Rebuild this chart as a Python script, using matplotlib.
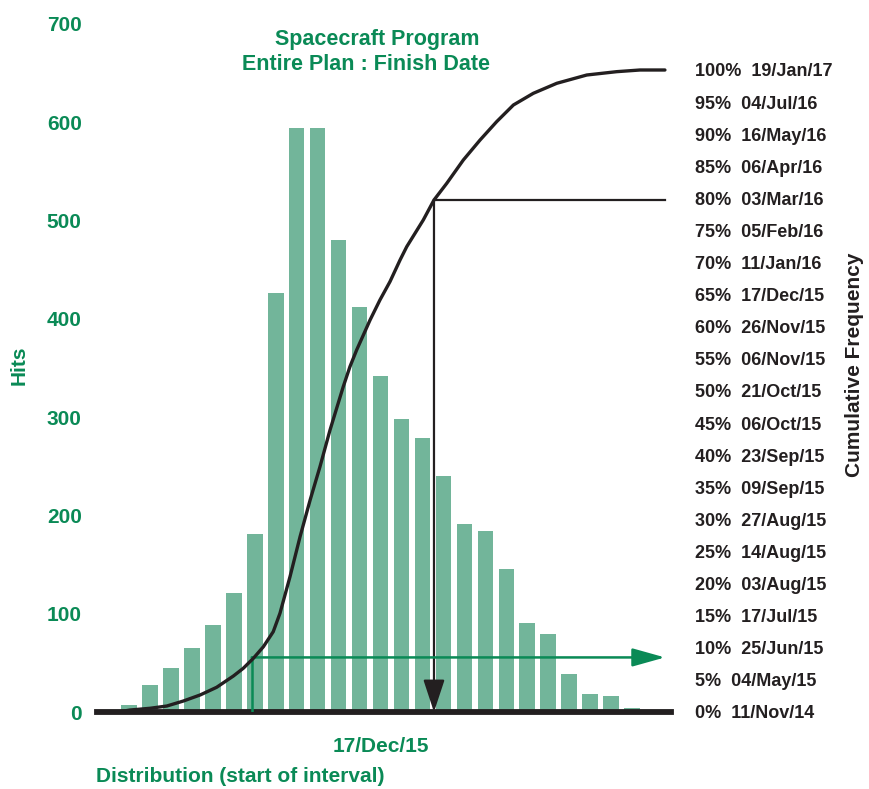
import matplotlib
matplotlib.use("Agg")
import matplotlib.pyplot as plt

plt.rcParams['font.family'] = ['Liberation Sans', 'DejaVu Sans']
plt.rcParams['font.weight'] = 'bold'

# ---- data ----
hits = [7, 27, 45, 65, 89, 121, 181, 426, 594, 594, 480, 412, 342,
        298, 279, 240, 191, 184, 145, 91, 79, 39, 18, 16, 4]
bin_pos = list(range(len(hits)))

# cumulative curve (x in bin units, y in %)
cum_x = [-0.52, 0.05, 1.00, 1.80, 2.59, 3.39, 4.18, 4.98, 5.45, 5.93, 6.41,
         6.88, 7.20, 7.68, 8.16, 8.64, 9.11, 9.59, 10.22, 10.54,
         10.86, 11.18, 11.50, 11.97, 12.45, 12.93, 13.25, 14.04, 14.55,
         15.16, 15.95, 16.75, 17.54, 18.34, 19.29, 20.41, 21.84, 23.27,
         24.38, 25.57]
cum_y = [0.0, 0.31, 0.58, 0.93, 1.71, 2.65, 3.85, 5.61, 6.81, 8.36, 10.17,
         12.51, 15.37, 21.08, 27.31, 33.02, 38.21, 43.93, 50.67, 53.79,
         56.39, 58.72, 61.06, 64.17, 67.03, 70.40, 72.48, 76.64, 79.75,
         82.35, 85.98, 89.10, 91.95, 94.55, 96.37, 97.93, 99.22, 99.74,
         100.0, 100.0]

pct_ticks = list(range(0, 101, 5))
pct_dates = ["11/Nov/14", "04/May/15", "25/Jun/15", "17/Jul/15", "03/Aug/15",
             "14/Aug/15", "27/Aug/15", "09/Sep/15", "23/Sep/15", "06/Oct/15",
             "21/Oct/15", "06/Nov/15", "26/Nov/15", "17/Dec/15", "11/Jan/16",
             "05/Feb/16", "03/Mar/16", "06/Apr/16", "16/May/16", "04/Jul/16",
             "19/Jan/17"]
pct_labels = [f"{p}%  {d}" for p, d in zip(pct_ticks, pct_dates)]

hits_ticks = [0, 100, 200, 300, 400, 500, 600, 700]
x_tick_pos = [12]
x_tick_labels = ["17/Dec/15"]

# markers: green 10% line and black 80% line
green_x, green_y = 5.85, 8.5
black_x, black_y = 14.55, 79.75
line_end_x = 25.57

GREEN = "#0A8A56"
BAR = "#72B59A"
BLACK = "#231F20"

fig = plt.figure(figsize=(8.69, 7.89), dpi=100)
ax = fig.add_axes([97/869, 1-712/789, (671-97)/869, (712-24)/789])

ax.bar(bin_pos, hits, width=0.74, color=BAR, zorder=1)
ax.set_xlim(-1.53, 25.86)
ax.set_ylim(0, 700)
ax.set_yticks(hits_ticks)
ax.set_yticklabels([str(v) for v in hits_ticks])
ax.set_xticks(x_tick_pos)
ax.set_xticklabels(x_tick_labels)
ax.tick_params(axis='y', length=0, pad=11, labelsize=15, labelcolor=GREEN)
ax.tick_params(axis='x', length=0, pad=18, labelsize=15, labelcolor=GREEN)
for s in ['top', 'right', 'left']:
    ax.spines[s].set_visible(False)
ax.spines['bottom'].set_linewidth(4.2)
ax.spines['bottom'].set_color(BLACK)
ax.spines['bottom'].set_zorder(5)

ax2 = ax.twinx()
ax2.set_ylim(0, 100*688/642)
ax2.set_yticks(pct_ticks)
ax2.set_yticklabels(pct_labels)
ax2.tick_params(axis='y', length=0, pad=17, labelsize=13, labelcolor=BLACK)
for s in ['top', 'right', 'left', 'bottom']:
    ax2.spines[s].set_visible(False)

ax2.plot(cum_x, cum_y, color=BLACK, lw=2.4, zorder=4,
         solid_joinstyle='round', solid_capstyle='round')

# black 80% indicator
ax2.plot([black_x, line_end_x], [black_y, black_y], color=BLACK, lw=1.6, zorder=3)
ax2.annotate("", xy=(black_x, 0), xytext=(black_x, black_y),
             arrowprops=dict(arrowstyle="-|>,head_length=1.0,head_width=0.33",
                             mutation_scale=20, color=BLACK, lw=1.6,
                             shrinkA=0, shrinkB=0), zorder=3)
# green 10% indicator
ax2.plot([green_x, green_x], [0, green_y], color=GREEN, lw=1.8, zorder=3)
ax2.annotate("", xy=(line_end_x, green_y), xytext=(green_x, green_y),
             arrowprops=dict(arrowstyle="-|>,head_length=1.0,head_width=0.28",
                             mutation_scale=20, color=GREEN, lw=1.8,
                             shrinkA=0, shrinkB=0), zorder=3)

fig.text(377/869, 1-39/789, "Spacecraft Program", color=GREEN, fontsize=15.5,
         ha='center', va='center', fontweight='bold')
fig.text(366/869, 1-65/789, "Entire Plan : Finish Date", color=GREEN, fontsize=15.5,
         ha='center', va='center', fontweight='bold')
fig.text(19/869, 1-365/789, "Hits", color=GREEN, fontsize=15, rotation=90,
         ha='center', va='center', fontweight='bold')
fig.text(855/869, 1-365/789, "Cumulative Frequency", color=BLACK, fontsize=15,
         rotation=90, ha='center', va='center', fontweight='bold')
fig.text(96/869, 1-776/789, "Distribution (start of interval)", color=GREEN,
         fontsize=15, ha='left', va='center', fontweight='bold')

fig.savefig("out.png", dpi=100)
